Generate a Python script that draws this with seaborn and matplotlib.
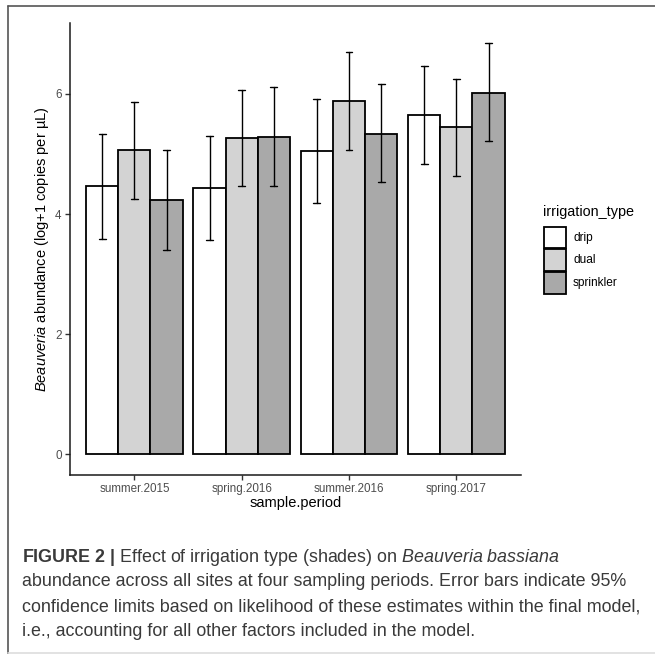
import matplotlib
matplotlib.use("Agg")
import matplotlib.pyplot as plt
from matplotlib.lines import Line2D
from matplotlib.patches import Rectangle
import seaborn as sns
import pandas as pd
import numpy as np

# ---------------- data ----------------
periods = ["summer.2015", "spring.2016", "summer.2016", "spring.2017"]
types = ["drip", "dual", "sprinkler"]

drip_mean = [4.46, 4.43, 5.05, 5.65]
dual_mean = [5.06, 5.26, 5.88, 5.45]
sprinkler_mean = [4.23, 5.28, 5.34, 6.02]

drip_lower = [3.58, 3.57, 4.19, 4.83]
dual_lower = [4.25, 4.46, 5.07, 4.64]
sprinkler_lower = [3.40, 4.46, 4.53, 5.21]

drip_upper = [5.34, 5.30, 5.92, 6.46]
dual_upper = [5.87, 6.07, 6.69, 6.25]
sprinkler_upper = [5.06, 6.11, 6.16, 6.84]

y_ticks = [0, 2, 4, 6]
fill_colors = ["#FFFFFF", "#D3D3D3", "#A9A9A9"]

# long table: each bar has [lower, estimate, upper]; median -> estimate, 100% interval -> limits
series = {
    "drip": (drip_lower, drip_mean, drip_upper),
    "dual": (dual_lower, dual_mean, dual_upper),
    "sprinkler": (sprinkler_lower, sprinkler_mean, sprinkler_upper),
}
rows = []
for t in types:
    lo, mu, hi = series[t]
    for i, p in enumerate(periods):
        for v in (lo[i], mu[i], hi[i]):
            rows.append({"sample.period": p, "irrigation_type": t, "value": v})
df = pd.DataFrame(rows)

# ---------------- style ----------------
sns.set_theme(style="white")
plt.rcParams["font.family"] = ["Liberation Sans", "DejaVu Sans"]
plt.rcParams["mathtext.fontset"] = "custom"
plt.rcParams["mathtext.rm"] = "Liberation Sans"
plt.rcParams["mathtext.it"] = "Liberation Sans:italic"
plt.rcParams["mathtext.bf"] = "Liberation Sans:bold"

W, H = 655, 654
fig = plt.figure(figsize=(W / 100, H / 100), dpi=100)
fig.patch.set_facecolor("white")

ax_l, ax_r, ax_t, ax_b = 70, 520.7, 23, 475
ax = fig.add_axes([ax_l / W, 1 - ax_b / H, (ax_r - ax_l) / W, (ax_b - ax_t) / H])

sns.barplot(
    data=df, x="sample.period", y="value", hue="irrigation_type",
    order=periods, hue_order=types, palette=fill_colors,
    estimator="median", errorbar=("pi", 100),
    width=0.9, gap=0, capsize=0.19,
    edgecolor="black", linewidth=1.3,
    err_kws={"color": "black", "linewidth": 1.0},
    saturation=1, legend=False, ax=ax,
)

ax.set_xlim(-0.6, 3.6)
ax.set_ylim(-0.342, 7.18)
ax.set_yticks(y_ticks)
ax.set_yticklabels([str(v) for v in y_ticks])

for s in ["top", "right"]:
    ax.spines[s].set_visible(False)
for s in ["left", "bottom"]:
    ax.spines[s].set_color("#1a1a1a")
    ax.spines[s].set_linewidth(1.1)

ax.tick_params(axis="both", which="major", length=3.5, width=1.0, color="#333333",
               labelsize=8.4, labelcolor="#4D4D4D", pad=2.5, direction="out",
               bottom=True, left=True)

ax.set_xlabel("sample.period", fontsize=10.5, color="black", va="center")
ax.set_ylabel(r"$\it{Beauveria}$ abundance (log+1 copies per µL)", fontsize=10.5,
              color="black", va="center")
ax.xaxis.set_label_coords(0.5, -(503 - ax_b) / (ax_b - ax_t))
ax.yaxis.set_label_coords(-(ax_l - 42) / (ax_r - ax_l), 0.5)

# legend (drawn in figure pixel positions)
def fx(px):
    return px / W

def fy(py):
    return 1 - py / H

fig.text(fx(543), fy(212), "irrigation_type", fontsize=10.4, color="black",
         ha="left", va="center")
key_tops = [226.7, 249.3, 272.0]
key_h = 21.6
for t, col, top in zip(types, fill_colors, key_tops):
    fig.add_artist(Rectangle((fx(544), fy(top + key_h)), (565.7 - 544) / W, key_h / H,
                             facecolor=col, edgecolor="black", linewidth=1.3,
                             transform=fig.transFigure))
    fig.text(fx(573), fy(top + key_h / 2), t, fontsize=8.6, color="black",
             ha="left", va="center")

# figure frame
fig.add_artist(Line2D([7.5 / W, 7.5 / W], [0, 1 - 6 / H], color="#555555", lw=1.2,
                      transform=fig.transFigure))
fig.add_artist(Line2D([7.5 / W, 1], [1 - 6 / H, 1 - 6 / H], color="#555555", lw=1.2,
                      transform=fig.transFigure))
fig.add_artist(Line2D([7.5 / W, 1], [1 - 652.5 / H, 1 - 652.5 / H], color="#dddddd", lw=1.2,
                      transform=fig.transFigure))

# caption
cap_color = "#3a3a3a"
cap_lines = [
    r"$\bf{FIGURE\ 2\ |}$ Effect of irrigation type (shades) on $\it{Beauveria\ bassiana}$",
    "abundance across all sites at four sampling periods. Error bars indicate 95%",
    "confidence limits based on likelihood of these estimates within the final model,",
    "i.e., accounting for all other factors included in the model.",
]
baselines = [562, 586, 611, 636]
for txt, yb in zip(cap_lines, baselines):
    fig.text(22 / W, 1 - yb / H, txt, fontsize=12.9, color=cap_color,
             ha="left", va="baseline")

fig.savefig("out.png", dpi=100, facecolor="white")
